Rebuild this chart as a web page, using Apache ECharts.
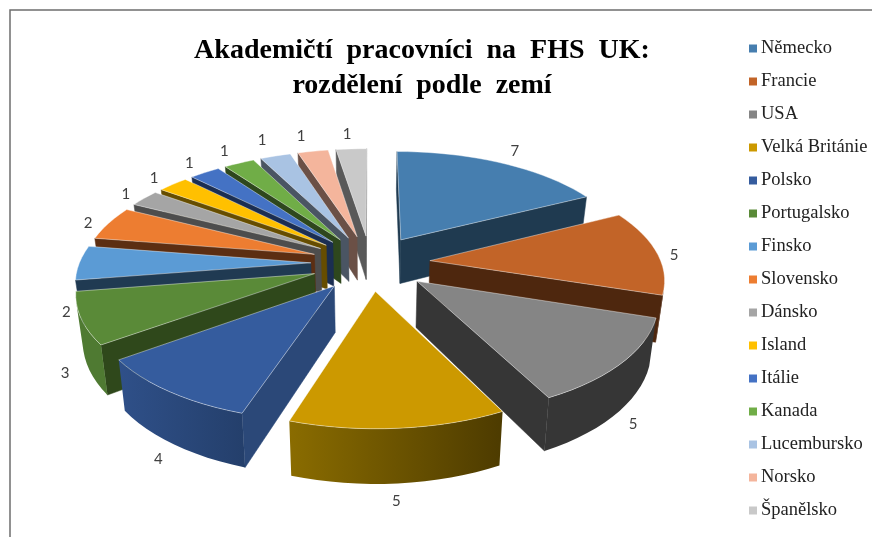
<!DOCTYPE html>
<html>
<head>
<meta charset="utf-8">
<script src="https://cdn.jsdelivr.net/npm/echarts@6/dist/echarts.min.js"></script>
<style>html,body{margin:0;background:#fff}#main{width:872px;height:537px}</style>
</head>
<body>
<div id="main"></div>
<script>
var countries = ["Německo","Francie","USA","Velká Británie","Polsko","Portugalsko","Finsko","Slovensko","Dánsko","Island","Itálie","Kanada","Lucembursko","Norsko","Španělsko"];
var values = [7,5,5,5,4,3,2,2,1,1,1,1,1,1,1];

// colours per slice: top face, straight walls, outer wall left/right
var topColors = ["#467EAF","#C26428","#858585","#CC9900","#355C9E","#5A8A38","#5B9BD5","#ED7D31","#A5A5A5","#FFC000","#4472C4","#70AD47","#A9C3E3","#F4B59C","#C9C9C9"];
var sideColors = ["#1F3A50","#4E270E","#363636","#4F3D00","#2B4878","#2F481B","#203A52","#5C2E12","#4D4D4D","#664D00","#1B2E52","#2E471D","#4A5563","#6B5046","#595959"];
var arcLeft = ["#1F3A50","#4E270E","#363636","#8A6C00","#2F5089","#4F7A32","#203A52","#5C2E12","#4D4D4D","#664D00","#1B2E52","#2E471D","#4A5563","#6B5046","#595959"];
var arcRight = ["#1F3A50","#4E270E","#363636","#4D3B00","#243F6B","#4F7A32","#203A52","#5C2E12","#4D4D4D","#664D00","#1B2E52","#2E471D","#4A5563","#6B5046","#595959"];

// Excel moves some data labels off the bisector
var labelShift = [[4,-5],[-5,4],[-12,19],[-5,0],[8,12],[9,31],[10,49],[-1,3],[-2,0],[-5,-1],[-4,-3],[-6,-5],[-7,-9],[-8,-8],[-3,-7]];

var total = values.reduce(function(a, b) { return a + b; }, 0);

// ---- 3D pie view: ground plane homography, pie radius = 1 ----
var view = { cx: 370.56, cy: 262.82, A: 231.43, B: 107.6, p: 0.147, E: 0.258 };
var DEPTH = 45, SHRINK = 0.024;

function startAngle(i) {
  var s = 0;
  for (var k = 0; k < i; k++) s += values[k];
  return s / total * Math.PI * 2;
}
function endAngle(i) { return startAngle(i + 1); }
function midAngle(i) { return (startAngle(i) + endAngle(i)) / 2; }

function project(i, th, r) {
  var m = midAngle(i);
  var X = r * Math.sin(th) + view.E * Math.sin(m);
  var Y = r * Math.cos(th) + view.E * Math.cos(m);
  var w = 1 + view.p * Y;
  return [view.cx + view.A * X / w, view.cy - view.B * Y / w, w];
}
function base(pt) { return [view.cx + (pt[0] - view.cx) * (1 - SHRINK), pt[1] + DEPTH / pt[2]]; }
function xy(p) { return [p[0], p[1]]; }
function area(a) {
  var s = 0;
  for (var i = 0; i < a.length; i++) {
    var b = a[(i + 1) % a.length];
    s += a[i][0] * b[1] - b[0] * a[i][1];
  }
  return s;
}

function renderSlice(i) {
  var a0 = startAngle(i), a1 = endAngle(i);
  var n = Math.max(4, Math.ceil((a1 - a0) / (Math.PI / 60)));
  var apex = project(i, midAngle(i), 0), arc = [], k;
  for (k = 0; k <= n; k++) arc.push(project(i, a0 + (a1 - a0) * k / n, 1));
  var kids = [];

  function wall(p, q) {
    var poly = [xy(p), xy(q), base(q), base(p)];
    if (area(poly) < 0) {
      kids.push({ type: "polygon", shape: { points: poly }, style: { fill: sideColors[i], stroke: sideColors[i], lineWidth: 0.5 } });
    }
  }
  wall(apex, arc[0]);
  wall(arc[n], apex);

  // outer wall, only the part that faces the viewer
  var top = [], bot = [];
  for (k = 0; k < n; k++) {
    if (area([xy(arc[k]), xy(arc[k + 1]), base(arc[k + 1]), base(arc[k])]) < 0) {
      if (!top.length) { top.push(xy(arc[k])); bot.push(base(arc[k])); }
      top.push(xy(arc[k + 1]));
      bot.push(base(arc[k + 1]));
    }
  }
  if (top.length) {
    kids.push({
      type: "polygon",
      shape: { points: top.concat(bot.reverse()) },
      style: { fill: new echarts.graphic.LinearGradient(0, 0, 1, 0, [{ offset: 0, color: arcLeft[i] }, { offset: 1, color: arcRight[i] }]) }
    });
  }

  kids.push({
    type: "polygon",
    shape: { points: [xy(apex)].concat(arc.map(xy)) },
    style: { fill: topColors[i], stroke: "rgba(255,255,255,0.6)", lineWidth: 0.7 }
  });

  var lp = project(i, midAngle(i), 1.1), front = Math.max(0, -Math.cos(midAngle(i)));
  kids.push({
    type: "text",
    x: lp[0] + labelShift[i][0],
    y: lp[1] + front * DEPTH / lp[2] + labelShift[i][1],
    style: { text: String(values[i]), fill: "#404040", font: '15px "Lato"', align: "center", verticalAlign: "middle" }
  });
  return { type: "group", children: kids };
}

// far slices first
var order = values.map(function(v, i) { return i; }).sort(function(a, b) {
  return Math.cos(midAngle(b)) - Math.cos(midAngle(a));
});

var chart = echarts.init(document.getElementById("main"), null, { renderer: "canvas" });
chart.setOption({
  animation: false,
  title: {
    text: "Akademičtí  pracovníci  na  FHS  UK:\nrozdělení  podle  zemí",
    left: 417, top: 28, textAlign: "center",
    textStyle: { fontFamily: "Liberation Serif", fontWeight: "bold", fontSize: 28, lineHeight: 35, color: "#000" }
  },
  legend: {
    orient: "vertical", left: 744, top: 34,
    itemWidth: 8, itemHeight: 8, itemGap: 14, icon: "rect",
    data: countries, selectedMode: false,
    textStyle: { fontFamily: "Liberation Serif", fontSize: 18.5, color: "#222", padding: [0, 0, 0, -1] }
  },
  graphic: [{
    type: "rect", silent: true,
    shape: { x: 10, y: 10, width: 900, height: 600 },
    style: { fill: null, stroke: "#6e6e6e", lineWidth: 1.5 }
  }],
  series: countries.map(function(name, i) {
    return {
      type: "custom", name: name, coordinateSystem: "none", silent: true,
      z: 2 + order.indexOf(i),
      itemStyle: { color: topColors[i] },
      data: [values[i]],
      renderItem: function() { return renderSlice(i); }
    };
  })
});
</script>
</body>
</html>
